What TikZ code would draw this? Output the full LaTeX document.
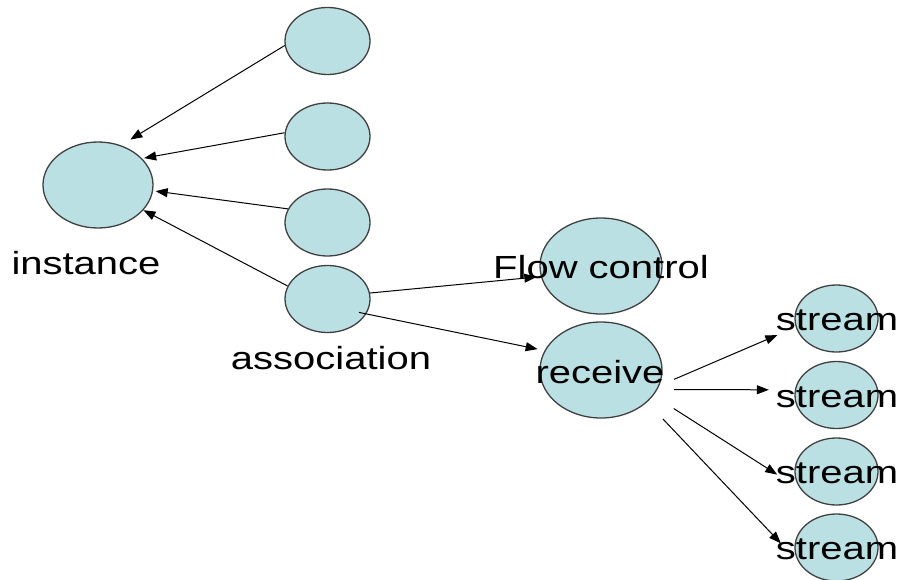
\documentclass[tikz,border=0pt]{standalone}
\usepackage{fontspec}
\setmainfont{Liberation Sans}[FakeStretch=1.25]
\usetikzlibrary{arrows.meta,shapes.geometric}
\definecolor{bubble}{RGB}{187,224,227}
\definecolor{rim}{RGB}{64,64,64}
\tikzset{
  bub/.style={ellipse, draw=rim, line width=1.3pt, fill=bubble,
    inner sep=0pt, minimum width=2*#1},
  big/.style={bub=61pt, minimum height=96pt},
  mid/.style={bub=55pt, minimum height=86pt},
  small/.style={bub=42.5pt, minimum height=67pt},
  lbl/.style={anchor=base, inner sep=0pt, font=\fontsize{32}{36}\selectfont},
  link/.style={draw=black, line width=1pt, -{Triangle[length=12pt,width=9pt]}}
}
\begin{document}
\begin{tikzpicture}[x=1pt,y=-1pt]
\useasboundingbox (0,0) rectangle (901,580);

% bubbles
\node[mid]   (inst)  at (98,185)    {};
\node[small] (t1)    at (327.5,41)  {};
\node[small] (t2)    at (327.5,136.5) {};
\node[small] (t3)    at (327.5,222.5) {};
\node[small] (assoc) at (327.5,299) {};
\node[big]   (flow)  at (601,266)   {};
\node[big]   (recv)  at (601,370)   {};
\node[small,minimum width=83pt] (s1) at (836.5,318.5) {};
\node[small,minimum width=83pt] (s2) at (836.5,395)   {};
\node[small,minimum width=83pt] (s3) at (836.5,471.5) {};
\node[small,minimum width=83pt] (s4) at (836.5,547.5) {};

% labels
\node[lbl] (linst)  at (86,274)  {instance};
\node[lbl] (lassoc) at (331,369) {association};
\node[lbl] (lflow)  at (601,278) {Flow control};
\node[lbl] (lrecv)  at (600,383) {receive};
\node[lbl] (ls1)    at (837,330) {stream};
\node[lbl] (ls2)    at (837,407) {stream};
\node[lbl] (ls3)    at (837,483) {stream};
\node[lbl] (ls4)    at (837,559) {stream};

% links into the instance bubble
\draw[link, shorten >=11pt] (t1.186.7) -- (inst.60.1);
\draw[link, shorten >=2pt]  (t2.175.3) -- (inst.31.7);
\draw[link, shorten >=2.5pt] (t3.161.5) -- (inst.-6.6);
\draw[link] (assoc.162.4) -- (inst.-29.1);

% links out of the association bubble
\draw[link, shorten >=4.5pt] (assoc.8.1) -- (flow.190.1);
\draw[link, shorten <=-7.5pt, shorten >=7pt] (assoc.-21.9) -- (recv.161.7);

% links out of the receive bubble
\draw[link, shorten <=16pt, shorten >=20pt]  (recv.-15.9) -- (s1.192.1);
\draw[link, shorten <=16.5pt, shorten >=26pt] (recv.-19.8) -- (s2.173);
\draw[link, shorten <=24pt, shorten >=28pt]  (recv.-26.9) -- (s3.207.9);
\draw[link, shorten <=23pt, shorten >=25pt]  (recv.-35.1) -- (s4.200);
\end{tikzpicture}
\end{document}
